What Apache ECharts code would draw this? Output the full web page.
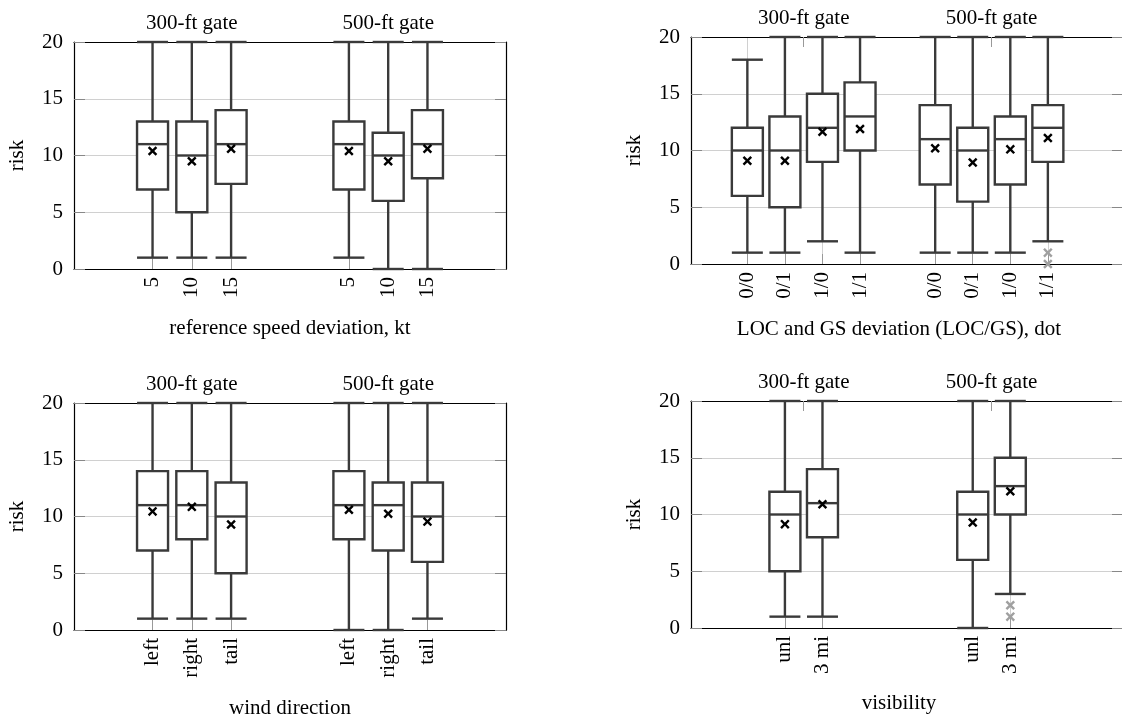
<!DOCTYPE html>
<html>
<head>
<meta charset="utf-8">
<script src="https://cdn.jsdelivr.net/npm/echarts@6/dist/echarts.min.js"></script>
<style>
html,body{margin:0;padding:0;background:#fff;overflow:hidden;}
#chart{width:1122px;height:715px;}
</style>
</head>
<body>
<div id="chart"></div>
<script>
// ---------------- DATA ----------------
// each box: [lower whisker, Q1, median, Q3, upper whisker]
const gateLabels = ['300-ft gate', '500-ft gate'];
const yTickValues = [0, 5, 10, 15, 20];

// Panel A: reference speed deviation
const speedLabels = ['5', '10', '15', '5', '10', '15'];
const speedBoxes = [
  [1, 7, 11, 13, 20], [1, 5, 10, 13, 20], [1, 7.5, 11, 14, 20],
  [1, 7, 11, 13, 20], [0, 6, 10, 12, 20], [0, 8, 11, 14, 20]
];
const speedMeans = [10.4, 9.5, 10.6, 10.4, 9.5, 10.6];
const speedOutliers = []; // [box index, value]

// Panel B: LOC and GS deviation
const locLabels = ['0/0', '0/1', '1/0', '1/1', '0/0', '0/1', '1/0', '1/1'];
const locBoxes = [
  [1, 6, 10, 12, 18], [1, 5, 10, 13, 20], [2, 9, 12, 15, 20], [1, 10, 13, 16, 20],
  [1, 7, 11, 14, 20], [1, 5.5, 10, 12, 20], [1, 7, 11, 13, 20], [2, 9, 12, 14, 20]
];
const locMeans = [9.1, 9.1, 11.65, 11.9, 10.2, 8.95, 10.1, 11.1];
const locOutliers = [[7, 1], [7, 0]];

// Panel C: wind direction
const windLabels = ['left', 'right', 'tail', 'left', 'right', 'tail'];
const windBoxes = [
  [1, 7, 11, 14, 20], [1, 8, 11, 14, 20], [1, 5, 10, 13, 20],
  [0, 8, 11, 14, 20], [0, 7, 11, 13, 20], [1, 6, 10, 13, 20]
];
const windMeans = [10.45, 10.85, 9.3, 10.6, 10.25, 9.55];
const windOutliers = [];

// Panel D: visibility
const visLabels = ['unl', '3 mi', 'unl', '3 mi'];
const visBoxes = [
  [1, 5, 10, 12, 20], [1, 8, 11, 14, 20],
  [0, 6, 10, 12, 20], [3, 10, 12.5, 15, 20]
];
const visMeans = [9.15, 10.9, 9.3, 12.05];
const visOutliers = [[3, 2], [3, 1]];

const axisTitles = [
  'reference speed deviation, kt',
  'LOC and GS deviation (LOC/GS), dot',
  'wind direction',
  'visibility'
];

// ---------------- LAYOUT ----------------
const FONT = 'Liberation Serif';
const panels = [
  { grid: {left: 74, top: 42, width: 432, height: 227}, n: 23, slots: [4, 6, 8, 14, 16, 18], gateSlots: [6, 16],
    labels: speedLabels, boxes: speedBoxes, means: speedMeans, outliers: speedOutliers, title: axisTitles[0], nameGap: 49, namePad: [0,0,0,0] },
  { grid: {left: 691, top: 37, width: 432, height: 227}, n: 24, slots: [3, 5, 7, 9, 13, 15, 17, 19], gateSlots: [6, 16],
    labels: locLabels, boxes: locBoxes, means: locMeans, outliers: locOutliers, title: axisTitles[1], nameGap: 55, namePad: [0,16,0,0] },
  { grid: {left: 74, top: 403, width: 432, height: 227}, n: 23, slots: [4, 6, 8, 14, 16, 18], gateSlots: [6, 16],
    labels: windLabels, boxes: windBoxes, means: windMeans, outliers: windOutliers, title: axisTitles[2], nameGap: 68, namePad: [0,0,0,0] },
  { grid: {left: 691, top: 401, width: 432, height: 227}, n: 24, slots: [5, 7, 15, 17], gateSlots: [6, 16],
    labels: visLabels, boxes: visBoxes, means: visMeans, outliers: visOutliers, title: axisTitles[3], nameGap: 65, namePad: [0,16,0,0] }
];

const X_PATH = 'path://M-0.22,-1L0.22,-1L0.22,-0.22L1,-0.22L1,0.22L0.22,0.22L0.22,1L-0.22,1L-0.22,0.22L-1,0.22L-1,-0.22L-0.22,-0.22Z';
const BOX_COLOR = '#3a3a3a';
const HALF_W = 15.5;

function renderBox(params, api) {
  const k = api.value(0);
  const lo = api.coord([k, api.value(1)]);
  const q1 = api.coord([k, api.value(2)]);
  const md = api.coord([k, api.value(3)]);
  const q3 = api.coord([k, api.value(4)]);
  const hi = api.coord([k, api.value(5)]);
  const x = lo[0];
  const st = {stroke: BOX_COLOR, lineWidth: 2.4, fill: null};
  return {
    type: 'group',
    children: [
      {type: 'line', shape: {x1: x, y1: hi[1], x2: x, y2: q3[1]}, style: st},
      {type: 'line', shape: {x1: x, y1: q1[1], x2: x, y2: lo[1]}, style: st},
      {type: 'line', shape: {x1: x - HALF_W, y1: hi[1], x2: x + HALF_W, y2: hi[1]}, style: st},
      {type: 'line', shape: {x1: x - HALF_W, y1: lo[1], x2: x + HALF_W, y2: lo[1]}, style: st},
      {type: 'rect', shape: {x: x - HALF_W, y: q3[1], width: 2 * HALF_W, height: q1[1] - q3[1]},
        style: {stroke: BOX_COLOR, lineWidth: 2.4, fill: '#ffffff'}},
      {type: 'line', shape: {x1: x - HALF_W, y1: md[1], x2: x + HALF_W, y2: md[1]}, style: st}
    ]
  };
}

const option = {
  animation: false,
  backgroundColor: '#ffffff',
  textStyle: {fontFamily: FONT},
  grid: [], xAxis: [], yAxis: [], series: []
};

panels.forEach((p, i) => {
  option.grid.push(Object.assign({containLabel: false, outerBoundsMode: 'none'}, p.grid));
  const bottomCats = new Array(p.n).fill('');
  p.slots.forEach((s, j) => { bottomCats[s] = p.labels[j]; });
  const topCats = new Array(p.n).fill('');
  p.gateSlots.forEach((s, j) => { topCats[s] = gateLabels[j]; });
  const isSlot = (idx) => p.slots.indexOf(idx) >= 0;
  const isGate = (idx) => p.gateSlots.indexOf(idx) >= 0;

  // bottom axis
  option.xAxis.push({
    gridIndex: i, type: 'category', position: 'bottom', boundaryGap: false, data: bottomCats,
    axisLine: {show: true, onZero: false, lineStyle: {color: '#000', width: 1.2}},
    axisTick: {show: true, inside: true, length: 10, interval: (idx) => isSlot(idx), lineStyle: {color: '#999'}},
    axisLabel: {show: true, interval: (idx) => isSlot(idx), rotate: 90, margin: 8, color: '#000',
      fontFamily: FONT, fontSize: 21},
    splitLine: {show: true, interval: (idx) => isSlot(idx), lineStyle: {color: '#d0d0d0', width: 1}},
    name: p.title, nameLocation: 'middle', nameGap: p.nameGap,
    nameTextStyle: {fontFamily: FONT, fontSize: 21, color: '#000', padding: p.namePad}
  });
  // top axis (group labels)
  option.xAxis.push({
    gridIndex: i, type: 'category', position: 'top', boundaryGap: false, data: topCats,
    axisLine: {show: true, onZero: false, lineStyle: {color: '#000', width: 1.2}},
    axisTick: {show: true, inside: true, length: 10, interval: (idx) => isGate(idx), lineStyle: {color: '#999'}},
    axisLabel: {show: true, interval: (idx) => isGate(idx), margin: 8, color: '#000',
      fontFamily: FONT, fontSize: 21},
    splitLine: {show: false}
  });
  // left y axis
  option.yAxis.push({
    gridIndex: i, type: 'value', position: 'left', min: 0, max: 20, interval: 5,
    axisLine: {show: true, lineStyle: {color: '#000', width: 1.2}},
    axisTick: {show: true, inside: true, length: 11, lineStyle: {color: '#888'}},
    axisLabel: {show: true, margin: 11, color: '#000', fontFamily: FONT, fontSize: 21,
      formatter: (v) => (yTickValues.indexOf(v) >= 0 ? String(v) : '')},
    splitLine: {show: true, lineStyle: {color: '#d0d0d0', width: 1}},
    name: 'risk', nameLocation: 'middle', nameGap: 46, nameRotate: 90,
    nameTextStyle: {fontFamily: FONT, fontSize: 21, color: '#000'}
  });
  // right y axis (frame)
  option.yAxis.push({
    gridIndex: i, type: 'value', position: 'right', min: 0, max: 20, interval: 5,
    axisLine: {show: true, lineStyle: {color: '#000', width: 1.2}},
    axisTick: {show: true, inside: true, length: 11, lineStyle: {color: '#888'}},
    axisLabel: {show: false}, splitLine: {show: false}
  });

  const xIdx = i * 2, yIdx = i * 2;
  option.series.push({
    type: 'custom', xAxisIndex: xIdx, yAxisIndex: yIdx, renderItem: renderBox, z: 3,
    encode: {x: 0, y: [1, 2, 3, 4, 5]},
    data: p.boxes.map((b, j) => [p.slots[j]].concat(b))
  });
  option.series.push({
    type: 'scatter', xAxisIndex: xIdx, yAxisIndex: yIdx, z: 5,
    symbol: X_PATH, symbolSize: 11, symbolRotate: 45,
    itemStyle: {color: '#000', opacity: 1},
    data: p.means.map((m, j) => [p.slots[j], m])
  });
  if (p.outliers.length) {
    option.series.push({
      type: 'scatter', xAxisIndex: xIdx, yAxisIndex: yIdx, z: 4,
      symbol: X_PATH, symbolSize: 11, symbolRotate: 45,
      itemStyle: {color: '#a0a0a0', opacity: 1},
      data: p.outliers.map((o) => [p.slots[o[0]], o[1]])
    });
  }
});

const chart = echarts.init(document.getElementById('chart'), null, {renderer: 'canvas'});
chart.setOption(option);
</script>
</body>
</html>
